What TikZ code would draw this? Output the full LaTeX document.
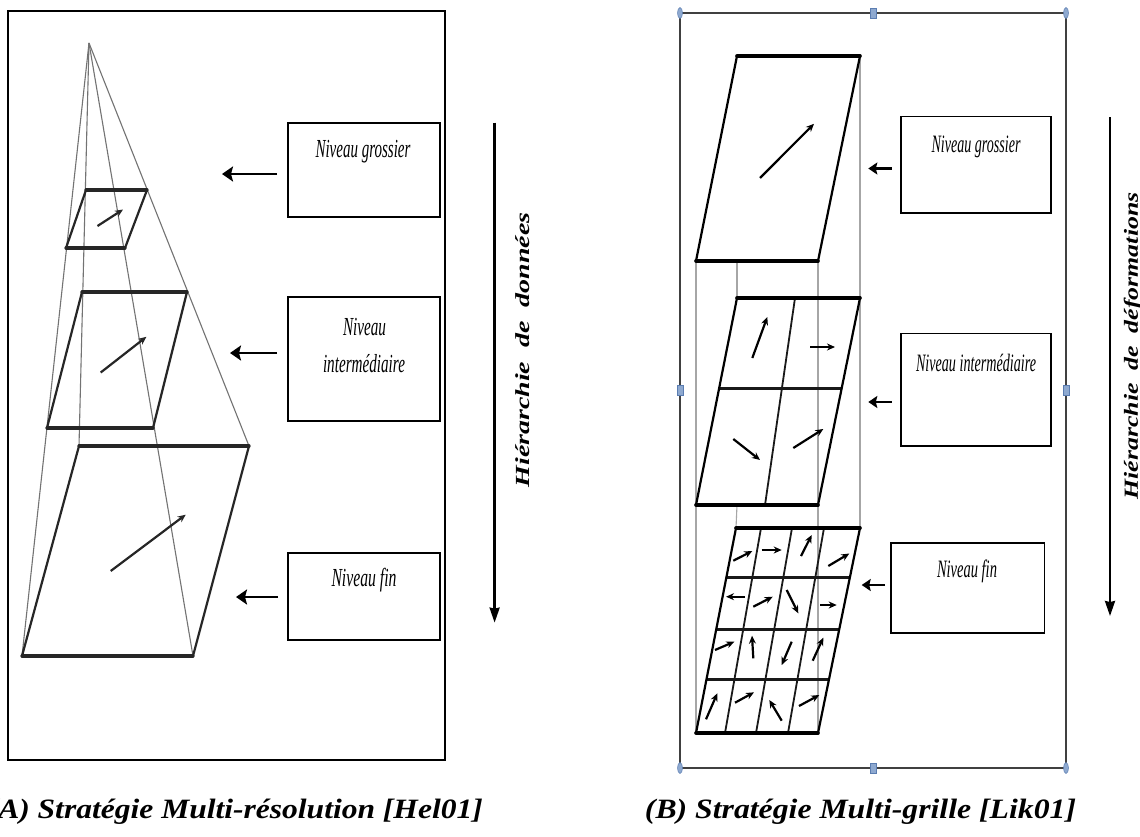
\documentclass[tikz,border=0pt]{standalone}
\usepackage{fontspec}
\setmainfont{Liberation Serif}
\usetikzlibrary{arrows.meta,calc,shapes.geometric}
\newcommand\fitw[2]{\resizebox{#1}{\height}{#2}}
\definecolor{hdlfill}{HTML}{8EA9D0}
\definecolor{hdldraw}{HTML}{5B7DB1}
\tikzset{
  frameA/.style={draw=black, line width=1.8pt},
  frameB/.style={draw=black!75, line width=1.5pt},
  pyr/.style={draw=black!55, line width=1.1pt},
  guide/.style={draw=black!35, line width=1.1pt},
  edgeH/.style={draw=black!85, line width=3.2pt, line cap=round},
  edgeS/.style={draw=black!85, line width=2.2pt, line cap=round},
  gridH/.style={draw=black!90, line width=3pt},
  gridS/.style={draw=black!90, line width=1.8pt},
  vec/.style={draw=black!85, line width=2.2pt, -{Stealth[length=8pt,width=7pt]}},
  conn/.style={draw=black, line width=2.8pt, -{Stealth[length=11pt,width=15pt,inset=2pt]}},
  connB/.style={draw=black, line width=2.3pt, -{Stealth[length=9pt,width=12pt,inset=1.5pt]}},
  hier/.style={draw=black, line width=2.3pt, -{Stealth[length=15pt,width=10pt,inset=1pt]}},
  lbox/.style={draw=black, line width=1.6pt, inner sep=0pt, outer sep=0pt},
  txt/.style={inner sep=0pt},
  hdlC/.style={ellipse, draw=hdldraw, fill=hdlfill, line width=0.5pt, minimum width=5pt, minimum height=11pt, inner sep=0pt},
  hdlM/.style={rectangle, draw=hdldraw, fill=hdlfill, line width=0.5pt, minimum width=6pt, minimum height=10pt, inner sep=0pt},
}
\begin{document}
\begin{tikzpicture}[x=1pt,y=-1pt]
\useasboundingbox (0,0) rectangle (1140,836);
\fill[white] (0,0) rectangle (1140,836);

% ================= LEFT PANEL =================
\draw[frameA] (8,11) rectangle (445,760);

\coordinate (apex) at (89,43);
\coordinate (bTL) at (79,446);  \coordinate (bTR) at (249,446);
\coordinate (bBR) at (193,656); \coordinate (bBL) at (22,656);
\coordinate (mTL) at (82,292);  \coordinate (mTR) at (187,292);
\coordinate (mBR) at (153,428); \coordinate (mBL) at (47,428);
\coordinate (sTL) at (86,190);  \coordinate (sTR) at (147,190);
\coordinate (sBR) at (125,248); \coordinate (sBL) at (66,248);

\draw[pyr] (apex) -- (bBL);
\draw[pyr] (apex) -- (bTL);
\draw[pyr] (apex) -- (bBR);
\draw[pyr] (apex) -- (bTR);

\foreach \p in {s,m,b}{
  \draw[edgeH] (\p TL) -- (\p TR);
  \draw[edgeH] (\p BL) -- (\p BR);
  \draw[edgeS] (\p TL) -- (\p BL);
  \draw[edgeS] (\p TR) -- (\p BR);
}

\coordinate (sv1) at (97.5,226);  \coordinate (sv2) at (123,209.5);
\coordinate (mv1) at (100.7,372.5); \coordinate (mv2) at (146.4,336.8);
\coordinate (bv1) at (110.7,571); \coordinate (bv2) at (185.7,514.7);
\draw[vec] (sv1) -- (sv2);
\draw[vec] (mv1) -- (mv2);
\draw[vec] (bv1) -- (bv2);

\node[lbox, minimum width=152pt, minimum height=94pt] (lg) at (364,170) {};
\node[lbox, minimum width=152pt, minimum height=124pt] (li) at (364,359) {};
\node[lbox, minimum width=152pt, minimum height=87pt] (lf) at (364,596.5) {};

\node[txt] (lgt) at (363,152) {\fitw{95pt}{\fontsize{26}{30}\selectfont\itshape Niveau grossier}};
\node[txt] (lit1) at (364.5,327) {\fitw{43pt}{\fontsize{26}{30}\selectfont\itshape Niveau}};
\node[txt] (lit2) at (364,364) {\fitw{82pt}{\fontsize{26}{30}\selectfont\itshape intermédiaire}};
\node[txt] (lft) at (364,580) {\fitw{65pt}{\fontsize{26}{30}\selectfont\itshape Niveau fin}};

\coordinate (lgtip) at (222,174);
\coordinate (litip) at (230,353);
\coordinate (lftip) at (236,597);
\draw[conn, shorten <=11pt] (lg.west |- lgtip) -- (lgtip);
\draw[conn, shorten <=11pt] (li.west |- litip) -- (litip);
\draw[conn, shorten <=10pt] (lf.west |- lftip) -- (lftip);

\coordinate (lh1) at (494.6,122.6); \coordinate (lh2) at (494.6,622.6);
\draw[hier] (lh1) -- (lh2);
\node[txt, rotate=90] (lht) at (523,350) {\fitw{275pt}{\fontsize{20}{22}\selectfont\bfseries\itshape Hiérarchie\ \ de\ \ données}};

% ================= RIGHT PANEL =================
\draw[frameB] (680,13) rectangle (1066,768);

\coordinate (aTL) at (737,56);  \coordinate (aTR) at (860,56);
\coordinate (aBR) at (818,261); \coordinate (aBL) at (696,261);
\coordinate (cTL) at (737,298); \coordinate (cTR) at (860,298);
\coordinate (cBR) at (818,505); \coordinate (cBL) at (696,505);
\coordinate (fTL) at (736,528); \coordinate (fTR) at (860,528);
\coordinate (fBR) at (818,733); \coordinate (fBL) at (696,733);

\draw[guide] (aBL) -- (fBL);
\draw[guide] (aBR) -- (fBR);
\draw[guide] (aTR) -- (fTR);
\draw[guide] (737,261) -- (cTL);
\draw[guide] (737,505) -- (fTL);

\coordinate (cML) at (719.2,388); \coordinate (cMR) at (841.7,388);
\coordinate (cMT) at (795,298);   \coordinate (cMB) at (765,505);
\draw[gridH] (cML) -- (cMR);
\draw[gridS] (cMT) -- (cMB);

\coordinate (r1L) at (726.4,577); \coordinate (r1R) at (850,577);
\coordinate (r2L) at (716.3,629); \coordinate (r2R) at (839.3,629);
\coordinate (r3L) at (706.5,679); \coordinate (r3R) at (829.1,679);
\draw[gridH] (r1L) -- (r1R);
\draw[gridH] (r2L) -- (r2R);
\draw[gridH] (r3L) -- (r3R);
\coordinate (k1T) at (761,528); \coordinate (k1B) at (725,733);
\coordinate (k2T) at (792,528); \coordinate (k2B) at (756,733);
\coordinate (k3T) at (824,528); \coordinate (k3B) at (788,733);
\draw[gridS] (k1T) -- (k1B);
\draw[gridS] (k2T) -- (k2B);
\draw[gridS] (k3T) -- (k3B);

\foreach \p in {a,c,f}{
  \draw[edgeH, line width=3.6pt, draw=black] (\p TL) -- (\p TR);
  \draw[edgeH, line width=3.6pt, draw=black] (\p BL) -- (\p BR);
  \draw[edgeS, draw=black] (\p TL) -- (\p BL);
  \draw[edgeS, draw=black] (\p TR) -- (\p BR);
}

\foreach \x/\y/\u/\v [count=\i] in {
  760/178/814/123.8,
  752.3/358/767.3/317, 810/347/835/347, 733.3/439/760/460, 793.3/448/823.3/429,
  733.3/560.7/752.3/551, 761.7/550/781.7/550, 801/556/811.7/535, 828.3/566/849.3/553.5,
  745/596.7/726/596.7, 753.3/606.7/772.7/596.7, 786.7/590/798.3/613.3, 820/605/836.7/605,
  715/650/734.3/641.7, 753.3/658.3/752/635.7, 791.7/641.7/781.7/665, 812.7/660.7/823.3/637.7,
  706/719.3/717.3/693.3, 735/702.7/754/692.3, 781.7/720.7/769.3/700, 799/706/819.3/695}{
  \coordinate (va\i) at (\x,\y);
  \coordinate (vb\i) at (\u,\v);
  \draw[vec, draw=black] (va\i) -- (vb\i);
}

\node[lbox, minimum width=150.3pt, minimum height=96.9pt] (rg) at (975.85,164.75) {};
\node[lbox, minimum width=150.3pt, minimum height=112.6pt] (ri) at (975.85,389.7) {};
\node[lbox, minimum width=153.3pt, minimum height=90pt] (rf) at (967.65,588) {};

\node[txt] (rgt) at (976,147) {\fitw{89pt}{\fontsize{25}{29}\selectfont\itshape Niveau grossier}};
\node[txt] (rit) at (976,363) {\fitw{120pt}{\fontsize{25}{29}\selectfont\itshape Niveau intermédiaire}};
\node[txt] (rft) at (967,571) {\fitw{60pt}{\fontsize{25}{29}\selectfont\itshape Niveau fin}};

\coordinate (rgtip) at (868.3,168.5);
\coordinate (ritip) at (868.3,402);
\coordinate (rftip) at (861.7,585);
\draw[connB, shorten <=9pt] (rg.west |- rgtip) -- (rgtip);
\draw[connB, shorten <=9pt] (ri.west |- ritip) -- (ritip);
\draw[connB, shorten <=6pt] (rf.west |- rftip) -- (rftip);

\coordinate (rh1) at (1110,117.3); \coordinate (rh2) at (1110,616);
\draw[hier] (rh1) -- (rh2);
\node[txt, rotate=90] (rht) at (1133,346) {\fitw{307pt}{\fontsize{20}{22}\selectfont\bfseries\itshape Hiérarchie\ \ de\ \ déformations}};

\node[hdlC] (h1) at (680,13) {};
\node[hdlC] (h2) at (1066,13) {};
\node[hdlC] (h3) at (680,768) {};
\node[hdlC] (h4) at (1066,768) {};
\node[hdlM] (h5) at (873,13) {};
\node[hdlM] (h6) at (873,768) {};
\node[hdlM] (h7) at (680,390) {};
\node[hdlM] (h8) at (1066,390) {};

% ================= CAPTIONS =================
\node[txt, anchor=east] (capA) at (483,812) {\fitw{495pt}{\fontsize{28}{32}\selectfont\bfseries\itshape (A) Stratégie Multi-résolution [Hel01]}};
\node[txt] (capB) at (860.5,812) {\fitw{431pt}{\fontsize{28}{32}\selectfont\bfseries\itshape (B) Stratégie Multi-grille [Lik01]}};
\end{tikzpicture}
\end{document}
